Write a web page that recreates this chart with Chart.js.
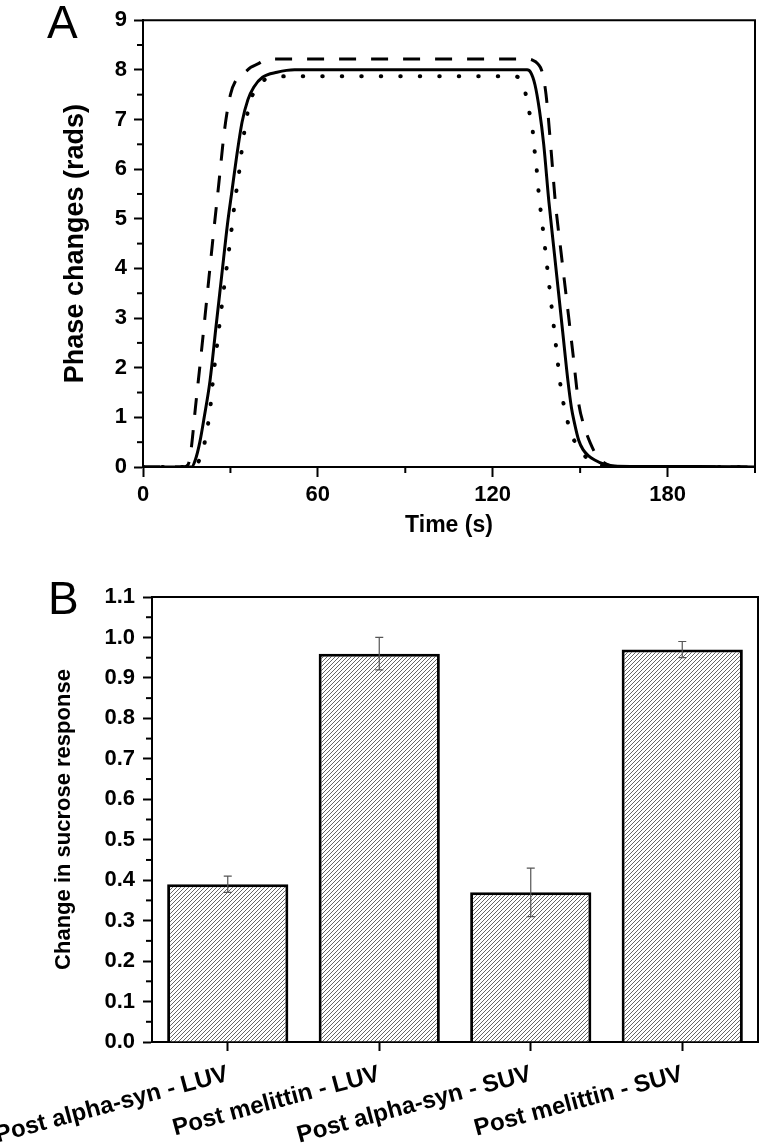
<!DOCTYPE html>
<html>
<head>
<meta charset="utf-8">
<script src="https://cdn.jsdelivr.net/npm/chart.js@4"></script>
<style>
  body { margin: 0; background: #fff; width: 760px; height: 1144px; position: relative; overflow: hidden; font-family: "Liberation Sans", Arial, sans-serif; }
  .panel { position: absolute; left: 0; width: 760px; }
  #wrapA { top: 0; height: 545px; }
  #wrapB { top: 560px; height: 584px; }
  .letter { position: absolute; font-size: 46px; line-height: 1; color: #000; }
</style>
</head>
<body>
<div class="panel" id="wrapA"><canvas id="chartA"></canvas></div>
<div class="panel" id="wrapB"><canvas id="chartB"></canvas></div>
<div class="letter" style="left:47px; top:-1px">A</div>
<div class="letter" style="left:48px; top:575px">B</div>

<script>
// panel A - phase change traces (time in s, phase in rads)
const solidTime  = [0, 10, 16.7, 18, 19.5, 21, 23, 25, 27, 29, 30.5, 32, 34, 36, 38, 41, 46, 52, 90, 128, 131.8, 133, 134.5, 136, 137.5, 139.3, 141, 142.5, 144, 145.8, 147, 148, 149.5, 151, 153, 155, 158, 161, 170, 190, 210];
const solidPhase = [0, 0, 0, 0.15, 0.5, 1.0, 1.74, 2.8, 3.85, 4.9, 5.55, 6.2, 6.95, 7.4, 7.65, 7.85, 7.95, 8.0, 8.0, 8.0, 8.0, 7.95, 7.7, 7.2, 6.5, 5.33, 4.39, 3.56, 2.73, 1.74, 1.2, 0.9, 0.54, 0.35, 0.22, 0.14, 0.06, 0.02, 0.01, 0.01, 0];

const dashTime  = [0, 10, 14, 15.5, 16.5, 18, 20, 22, 24, 26, 28, 30, 32, 34.6, 37, 39.4, 42, 46, 90, 131, 133.5, 135.5, 137, 138.3, 140, 141.5, 143.5, 145.5, 147.5, 149.5, 151.5, 153.5, 156, 159, 163, 170, 210];
const dashPhase = [0, 0, 0, 0.05, 0.35, 1.2, 2.3, 3.45, 4.6, 5.7, 6.8, 7.5, 7.8, 7.93, 8.05, 8.12, 8.2, 8.22, 8.22, 8.22, 8.2, 8.12, 7.95, 7.5, 6.4, 5.33, 4.3, 3.3, 2.3, 1.28, 0.8, 0.48, 0.2, 0.06, 0.01, 0, 0];

const dotTime  = [0, 10, 17, 18.5, 20, 21, 23, 24, 26, 28, 30, 31.5, 33, 34.3, 36.6, 38.3, 41.2, 45, 50, 90, 127, 129.5, 131, 132.4, 133.6, 134.2, 135, 135.5, 137.5, 139.5, 141.5, 143.6, 145, 146.5, 149.2, 154, 158, 163, 210];
const dotPhase = [0, 0, 0, 0.05, 0.25, 0.45, 1.15, 1.74, 2.75, 3.7, 4.6, 5.33, 5.95, 6.57, 7.33, 7.57, 7.78, 7.85, 7.87, 7.87, 7.87, 7.82, 7.59, 7.19, 6.84, 6.46, 6.06, 5.69, 4.65, 3.6, 2.55, 1.5, 1.1, 0.74, 0.41, 0.1, 0.03, 0, 0];

// panel B - bars with error
const barLabels = ["Post alpha-syn - LUV", "Post melittin - LUV", "Post alpha-syn - SUV", "Post melittin - SUV"];
const barValues = [0.39, 0.96, 0.37, 0.97];
const barErrors = [0.02, 0.04, 0.06, 0.02];

const FONT = "'Liberation Sans', Arial, sans-serif";
const tickFont = { family: FONT, size: 22, weight: "bold" };

function points(xs, ys) {
  return xs.map((x, i) => ({ x: x, y: ys[i] }));
}

function isMajor(value, step) {
  const r = value / step;
  return Math.abs(r - Math.round(r)) < 1e-6;
}

// top + right edges of the box
const framePlugin = {
  id: "frame",
  afterDraw(chart) {
    const { ctx, chartArea } = chart;
    ctx.save();
    ctx.strokeStyle = "#000";
    ctx.lineWidth = 2;
    ctx.beginPath();
    ctx.moveTo(chartArea.left, chartArea.top);
    ctx.lineTo(chartArea.right, chartArea.top);
    ctx.lineTo(chartArea.right, chartArea.bottom);
    ctx.stroke();
    ctx.restore();
  }
};

// shorter ticks for the minor steps
const minorTickPlugin = {
  id: "minorTicks",
  afterDraw(chart) {
    const ctx = chart.ctx;
    ctx.save();
    ctx.strokeStyle = "#000";
    ctx.lineWidth = 2;
    Object.values(chart.scales).forEach(scale => {
      const step = scale.options.majorStep;
      if (!step) return;
      scale.ticks.forEach(t => {
        if (isMajor(t.value, step)) return;
        const p = scale.getPixelForValue(t.value);
        ctx.beginPath();
        if (scale.isHorizontal()) {
          ctx.moveTo(p, scale.top);
          ctx.lineTo(p, scale.top + 6);
        } else {
          ctx.moveTo(scale.right, p);
          ctx.lineTo(scale.right - 6, p);
        }
        ctx.stroke();
      });
    });
    ctx.restore();
  }
};

const errorBarPlugin = {
  id: "errorBars",
  afterDatasetsDraw(chart) {
    const ctx = chart.ctx;
    const y = chart.scales.y;
    const meta = chart.getDatasetMeta(0);
    ctx.save();
    ctx.strokeStyle = "#555";
    ctx.lineWidth = 1.2;
    meta.data.forEach((bar, i) => {
      const hi = y.getPixelForValue(barValues[i] + barErrors[i]);
      const lo = y.getPixelForValue(barValues[i] - barErrors[i]);
      ctx.beginPath();
      ctx.moveTo(bar.x, hi); ctx.lineTo(bar.x, lo);
      ctx.moveTo(bar.x - 4, hi); ctx.lineTo(bar.x + 4, hi);
      ctx.moveTo(bar.x - 4, lo); ctx.lineTo(bar.x + 4, lo);
      ctx.stroke();
    });
    ctx.restore();
  }
};

function hatchPattern() {
  const size = 4;
  const c = document.createElement("canvas");
  c.width = size; c.height = size;
  const g = c.getContext("2d");
  g.fillStyle = "#fff";
  g.fillRect(0, 0, size, size);
  g.strokeStyle = "#555";
  g.lineWidth = 0.9;
  g.beginPath();
  g.moveTo(0, size); g.lineTo(size, 0);
  g.moveTo(-1, 1); g.lineTo(1, -1);
  g.moveTo(size - 1, size + 1); g.lineTo(size + 1, size - 1);
  g.stroke();
  return g.createPattern(c, "repeat");
}

function tickColorFor(step) {
  return ctx => (ctx.tick && isMajor(ctx.tick.value, step)) ? "#000" : "rgba(0,0,0,0)";
}

function lineSet(xs, ys, dash, width, cap) {
  return {
    data: points(xs, ys),
    showLine: true,
    borderColor: "#000",
    borderWidth: width,
    borderDash: dash,
    borderCapStyle: cap,
    pointRadius: 0,
    cubicInterpolationMode: "monotone",
    fill: false
  };
}

Chart.defaults.animation = false;
Chart.defaults.color = "#000";

new Chart(document.getElementById("chartA"), {
  type: "scatter",
  data: {
    datasets: [
      lineSet(dashTime, dashPhase, [17, 15], 3, "butt"),
      lineSet(solidTime, solidPhase, [], 3, "butt"),
      lineSet(dotTime, dotPhase, [0.5, 19], 4, "round")
    ]
  },
  options: {
    responsive: true,
    maintainAspectRatio: false,
    layout: { padding: { top: 16, right: 3, bottom: 0, left: 0 } },
    plugins: { legend: { display: false }, tooltip: { enabled: false } },
    scales: {
      x: {
        type: "linear",
        min: 0, max: 210,
        majorStep: 60,
        ticks: {
          stepSize: 30,
          autoSkip: false,
          maxRotation: 0,
          padding: 5,
          font: tickFont,
          color: "#000",
          callback: v => isMajor(v, 60) ? v : ""
        },
        grid: { drawOnChartArea: false, tickLength: 10, tickWidth: 2, tickColor: tickColorFor(60) },
        border: { color: "#000", width: 2 },
        title: { display: true, text: "Time (s)", font: { family: FONT, size: 23, weight: "bold" }, color: "#000", padding: { top: 0, bottom: 6 } },
        afterFit: s => { s.height = 78; }
      },
      y: {
        min: 0, max: 9,
        majorStep: 1,
        ticks: {
          stepSize: 0.5,
          autoSkip: false,
          padding: 7,
          font: tickFont,
          color: "#000",
          callback: v => isMajor(v, 1) ? v : ""
        },
        grid: { drawOnChartArea: false, tickLength: 9, tickWidth: 2, tickColor: tickColorFor(1) },
        border: { color: "#000", width: 2 },
        title: { display: true, text: "Phase changes (rads)", font: { family: FONT, size: 27, weight: "bold" }, color: "#000", padding: { top: 59, bottom: 0 } },
        afterFit: s => { s.width = 143; }
      }
    }
  },
  plugins: [framePlugin, minorTickPlugin]
});

new Chart(document.getElementById("chartB"), {
  type: "bar",
  data: {
    labels: barLabels,
    datasets: [{
      data: barValues,
      backgroundColor: hatchPattern(),
      borderColor: "#000",
      borderWidth: 3,
      categoryPercentage: 0.8,
      barPercentage: 1.0
    }]
  },
  options: {
    responsive: true,
    maintainAspectRatio: false,
    layout: { padding: { top: 37, right: 2, bottom: 0, left: 0 } },
    plugins: { legend: { display: false }, tooltip: { enabled: false } },
    scales: {
      x: {
        ticks: {
          autoSkip: false,
          minRotation: 15,
          maxRotation: 15,
          padding: 9,
          font: { family: FONT, size: 24, weight: "bold" },
          color: "#000"
        },
        grid: { offset: false, drawOnChartArea: false, tickLength: 9, tickWidth: 2, tickColor: "#000" },
        border: { color: "#000", width: 2 },
        afterFit: s => { s.height = 102; s.paddingLeft = 0; s.paddingRight = 0; }
      },
      y: {
        min: 0, max: 1.1,
        majorStep: 0.1,
        ticks: {
          stepSize: 0.05,
          autoSkip: false,
          padding: 8,
          font: tickFont,
          color: "#000",
          callback: v => isMajor(v, 0.1) ? v.toFixed(1) : ""
        },
        grid: { drawOnChartArea: false, tickLength: 9, tickWidth: 2, tickColor: tickColorFor(0.1) },
        border: { color: "#000", width: 2 },
        title: { display: true, text: "Change in sucrose response", font: { family: FONT, size: 22, weight: "bold" }, color: "#000", padding: { top: 51, bottom: 0 } },
        afterFit: s => { s.width = 152; }
      }
    }
  },
  plugins: [framePlugin, minorTickPlugin, errorBarPlugin]
});
</script>
</body>
</html>
